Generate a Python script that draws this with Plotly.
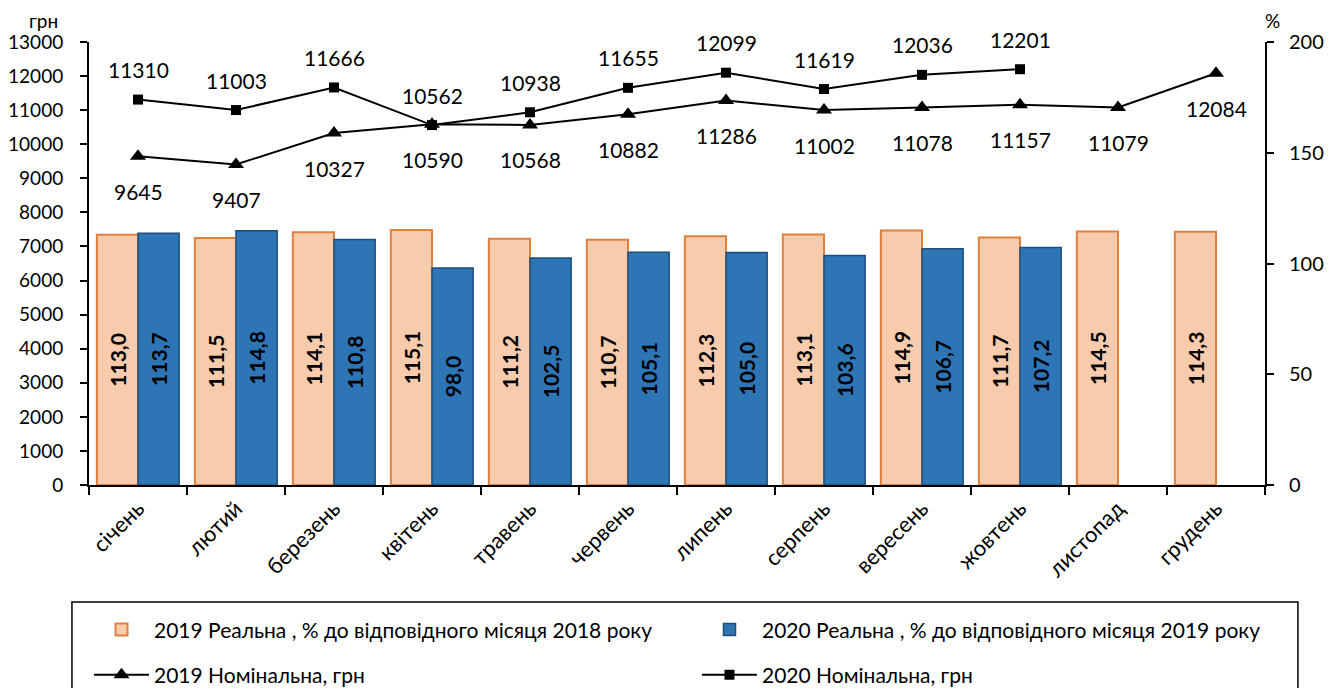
import plotly.graph_objects as go

months = ["січень", "лютий", "березень", "квітень", "травень", "червень",
          "липень", "серпень", "вересень", "жовтень", "листопад", "грудень"]
real_2019 = [113.0, 111.5, 114.1, 115.1, 111.2, 110.7, 112.3, 113.1, 114.9, 111.7, 114.5, 114.3]
real_2020 = [113.7, 114.8, 110.8, 98.0, 102.5, 105.1, 105.0, 103.6, 106.7, 107.2, None, None]
nom_2019 = [9645, 9407, 10327, 10590, 10568, 10882, 11286, 11002, 11078, 11157, 11079, 12084]
nom_2020 = [11310, 11003, 11666, 10562, 10938, 11655, 12099, 11619, 12036, 12201, None, None]

FONT = "Lato"

def fmt(v):
    return "" if v is None else f"{v:.1f}".replace(".", ",")

fig = go.Figure()
fig.add_trace(go.Bar(
    x=months, y=real_2019, yaxis="y2", name="2019 Реальна , % до відповідного місяця 2018 року",
    marker=dict(color="#F8CBAD", line=dict(color="#E0803F", width=2)),
    text=[fmt(v) for v in real_2019], textposition="inside", insidetextanchor="middle",
    textangle=-90, textfont=dict(family=FONT, size=21, color="black", weight="bold"),
    legend="legend",
))
fig.add_trace(go.Bar(
    x=months, y=real_2020, yaxis="y2", name="2020 Реальна , % до відповідного місяця 2019 року",
    marker=dict(color="#2E75B6", line=dict(color="#1F4E79", width=1.5)),
    text=[fmt(v) for v in real_2020], textposition="inside", insidetextanchor="middle",
    textangle=-90, textfont=dict(family=FONT, size=21, color="black", weight="bold"),
    legend="legend2",
))
fig.add_trace(go.Scatter(
    x=months, y=nom_2019, mode="lines+markers", name="2019 Номінальна, грн",
    line=dict(color="black", width=2), marker=dict(symbol="triangle-up", size=14, color="black"),
    legend="legend3",
))
fig.add_trace(go.Scatter(
    x=months, y=nom_2020, mode="lines+markers", name="2020 Номінальна, грн",
    line=dict(color="black", width=2), marker=dict(symbol="square", size=10, color="black"),
    legend="legend4", connectgaps=False,
))

annotations = []
for m, v in zip(months, nom_2019):
    if v is not None:
        annotations.append(dict(x=m, y=v, xref="x", yref="y", text=str(v), showarrow=False,
                                yshift=-35, font=dict(family=FONT, size=21, color="black")))
for m, v in zip(months, nom_2020):
    if v is not None:
        annotations.append(dict(x=m, y=v, xref="x", yref="y", text=str(v), showarrow=False,
                                yshift=30, font=dict(family=FONT, size=21, color="black")))
annotations.append(dict(x=0, y=1, xref="paper", yref="paper", text="грн", showarrow=False,
                        xanchor="right", yanchor="bottom", xshift=-29, yshift=8,
                        font=dict(family=FONT, size=19, color="black")))
annotations.append(dict(x=1, y=1, xref="paper", yref="paper", text="%", showarrow=False,
                        xanchor="left", yanchor="bottom", xshift=-2, yshift=8,
                        font=dict(family=FONT, size=19, color="black")))

LEG_FONT = dict(family=FONT, size=21, color="black")

def leg(x, y):
    return dict(orientation="h", x=x, y=y, xanchor="left", yanchor="middle", itemwidth=55,
                font=LEG_FONT, bgcolor="rgba(0,0,0,0)", borderwidth=0)

W, H = 1330, 680  # page body adds an 8px offset
fig.update_layout(
    width=W, height=H,
    margin=dict(l=81, r=73, t=34, b=203, autoexpand=False),
    showlegend=True,
    paper_bgcolor="white", plot_bgcolor="white",
    font=dict(family=FONT, size=20, color="black"),
    barmode="group", bargap=0.16, bargroupgap=0,
    xaxis=dict(range=[-0.5, len(months) - 0.5], showline=True, linecolor="black", linewidth=2,
               ticks="outside", tickson="boundaries", ticklen=8, tickwidth=2, tickcolor="black",
               tickangle=-45, tickfont=dict(family=FONT, size=22), showgrid=False),
    yaxis=dict(range=[0, 13000], dtick=1000, tickformat="d", showline=True, linecolor="black",
               linewidth=2, ticks="outside", ticklen=7, tickwidth=2, tickcolor="black",
               ticklabelstandoff=13,
               showgrid=False, zeroline=False, tickfont=dict(family=FONT, size=19)),
    yaxis2=dict(range=[0, 200], dtick=50, overlaying="y", side="right", showline=True,
                linecolor="black", linewidth=2, ticks="outside", ticklen=7, tickwidth=2,
                tickcolor="black", showgrid=False, zeroline=False, ticklabelstandoff=11,
                tickfont=dict(family=FONT, size=20)),
    legend=leg(0.0, -0.327),
    legend2=leg(0.517, -0.327),
    legend3=leg(0.0, -0.429),
    legend4=leg(0.517, -0.429),
    annotations=annotations,
    shapes=[dict(type="rect", xref="paper", yref="paper", x0=-0.0145, x1=1.028,
                 y0=-0.49, y1=-0.264, line=dict(color="black", width=1.5))],
)

fig.write_html("out.html")
